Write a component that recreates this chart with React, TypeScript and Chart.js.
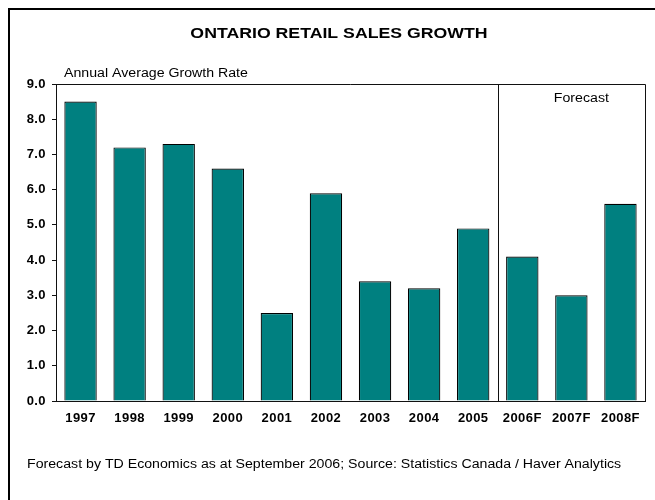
import React, { useEffect, useRef } from "react";
import { Chart, registerables } from "chart.js";

Chart.register(...registerables);

const categories = ["1997", "1998", "1999", "2000", "2001", "2002", "2003", "2004", "2005", "2006F", "2007F", "2008F"];
const growth = [8.5, 7.2, 7.3, 6.6, 2.5, 5.9, 3.4, 3.2, 4.9, 4.1, 3.0, 5.6];
const yTicks = [0, 1, 2, 3, 4, 5, 6, 7, 8, 9];
const title = "ONTARIO RETAIL SALES GROWTH";
const yAxisTitle = "Annual Average Growth Rate";
const forecastLabel = "Forecast";
const firstForecastIndex = 9;
const footer = "Forecast by TD Economics as at September 2006; Source: Statistics Canada / Haver Analytics";

const FONT = "'Liberation Sans', Arial, Helvetica, sans-serif";
const STRETCH = 1.18;

function wideText(ctx: any, text: string, x: number, y: number) {
  ctx.save();
  ctx.translate(x, y);
  ctx.scale(STRETCH, 1);
  ctx.fillText(text, 0, 0);
  ctx.restore();
}

export default function App() {
  const ref = useRef<HTMLCanvasElement | null>(null);

  useEffect(() => {
    if (!ref.current) return;
    const decor = {
      id: "decor",
      beforeDraw(chart: any) {
        (chart.ctx as any).letterSpacing = "0.4px";
      },
      afterDraw(chart: any) {
        const ctx = chart.ctx;
        const { left, right, top, bottom } = chart.chartArea;
        const x = chart.scales.x;
        ctx.save();
        (ctx as any).letterSpacing = "0px";
        // outer frame
        ctx.strokeStyle = "#000";
        ctx.lineWidth = 2;
        ctx.beginPath();
        ctx.moveTo(9, 500);
        ctx.lineTo(9, 9);
        ctx.lineTo(655, 9);
        ctx.stroke();
        // plot box top and right
        ctx.lineWidth = 1;
        ctx.strokeStyle = "#111";
        ctx.beginPath();
        ctx.moveTo(left, Math.round(top) + 0.5);
        ctx.lineTo(Math.round(right) + 0.5, Math.round(top) + 0.5);
        ctx.lineTo(Math.round(right) + 0.5, bottom);
        ctx.stroke();
        // forecast divider
        const dx = Math.round((x.getPixelForValue(firstForecastIndex - 1) + x.getPixelForValue(firstForecastIndex)) / 2) + 0.5;
        ctx.beginPath();
        ctx.moveTo(dx, top);
        ctx.lineTo(dx, bottom);
        ctx.stroke();
        // texts
        ctx.fillStyle = "#000";
        ctx.textBaseline = "middle";
        ctx.textAlign = "center";
        ctx.font = `bold 15px ${FONT}`;
        wideText(ctx, title, 339, 34);
        ctx.font = `12px ${FONT}`;
        ctx.textAlign = "left";
        ctx.textBaseline = "alphabetic";
        wideText(ctx, yAxisTitle, left + 8, 77);
        ctx.textAlign = "center";
        wideText(ctx, forecastLabel, x.getPixelForValue(10) + 10, 102);
        ctx.textAlign = "left";
        ctx.textBaseline = "middle";
        wideText(ctx, footer, 27, 465);
        ctx.restore();
      },
    };

    const chart = new Chart(ref.current, {
      type: "bar",
      data: {
        labels: categories,
        datasets: [
          {
            data: growth,
            backgroundColor: "#008080",
            borderColor: "#000",
            borderWidth: 1.2,
            barPercentage: 0.66,
            categoryPercentage: 1,
          },
        ],
      },
      options: {
        responsive: false,
        animation: false,
        layout: { padding: { left: 0, top: 84, right: 10, bottom: 0 } },
        plugins: { legend: { display: false }, tooltip: { enabled: false }, title: { display: false } },
        scales: {
          x: {
            grid: { display: true, drawOnChartArea: false, drawTicks: false },
            border: { display: true, color: "#111", width: 1 },
            ticks: { color: "#000", font: { family: FONT, size: 13, weight: "bold" }, padding: 10, maxRotation: 0, autoSkip: false },
            afterFit: (s: any) => { s.height = 99; },
          },
          y: {
            min: 0,
            max: 9,
            afterBuildTicks: (s: any) => { s.ticks = yTicks.map((v) => ({ value: v })); },
            grid: { display: true, drawOnChartArea: false, drawTicks: true, tickLength: 4, color: "#111" },
            border: { display: true, color: "#111", width: 1 },
            ticks: {
              color: "#000",
              font: { family: FONT, size: 13, weight: "bold" },
              padding: 6,
              callback: (v: any) => Number(v).toFixed(1),
            },
            afterFit: (s: any) => { s.width = 56; },
          },
        },
      },
      plugins: [decor],
    });
    return () => chart.destroy();
  }, []);

  return (
    <div style={{ position: "fixed", left: 0, top: 0, width: 655, height: 500, background: "#fff" }}>
      <canvas ref={ref} width={655} height={500} style={{ display: "block" }} />
    </div>
  );
}
